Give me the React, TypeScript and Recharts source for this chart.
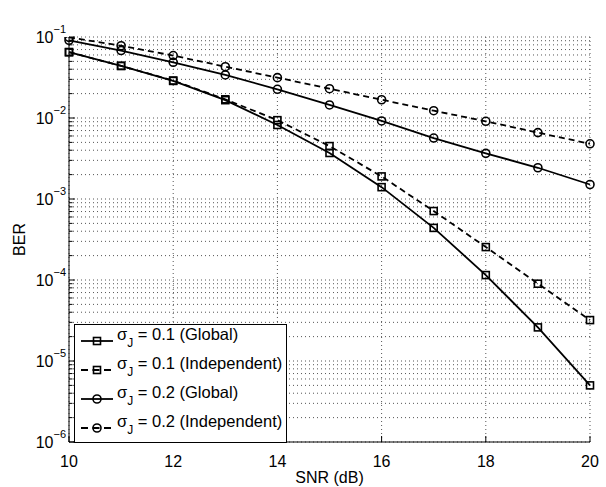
import { LineChart, Line, XAxis, YAxis, CartesianGrid, Legend, Label } from 'recharts';

const FONT = '"Liberation Sans", Arial, Helvetica, sans-serif';

// SNR in dB
const snr = [10, 11, 12, 13, 14, 15, 16, 17, 18, 19, 20];

// BER
const berSigma01Global = [0.065, 0.044, 0.0287, 0.0166, 0.0082, 0.0037, 0.0014, 4.4e-4, 1.15e-4, 2.6e-5, 5.0e-6];
const berSigma01Indep = [0.065, 0.044, 0.029, 0.017, 0.0094, 0.0045, 0.0019, 7.1e-4, 2.55e-4, 9.0e-5, 3.2e-5];
const berSigma02Global = [0.091, 0.068, 0.0487, 0.034, 0.0226, 0.0145, 0.0092, 0.00566, 0.00366, 0.00243, 0.00151];
const berSigma02Indep = [0.099, 0.078, 0.059, 0.043, 0.0315, 0.023, 0.0168, 0.0123, 0.0091, 0.0066, 0.0048];

const xTicks = [10, 12, 14, 16, 18, 20];
const yDecades = [1e-6, 1e-5, 1e-4, 1e-3, 1e-2, 1e-1];
const minorSteps = [2, 3, 4, 5, 6, 7, 8, 9];
const yTicks = yDecades.flatMap((d, i) =>
  i === yDecades.length - 1 ? [d] : [d, ...minorSteps.map((m) => d * m)]
);

const series = [
  { key: 'g01', sigma: '0.1', mode: 'Global', marker: 'square', dashed: false, values: berSigma01Global },
  { key: 'i01', sigma: '0.1', mode: 'Independent', marker: 'square', dashed: true, values: berSigma01Indep },
  { key: 'g02', sigma: '0.2', mode: 'Global', marker: 'circle', dashed: false, values: berSigma02Global },
  { key: 'i02', sigma: '0.2', mode: 'Independent', marker: 'circle', dashed: true, values: berSigma02Indep },
];

const data = snr.map((s, i) => {
  const row: Record<string, number> = { snr: s };
  series.forEach((se) => {
    row[se.key] = se.values[i];
  });
  return row;
});

const isDecade = (v: number) => Math.abs(Math.log10(v) - Math.round(Math.log10(v))) < 1e-9;

const Marker = ({ cx, cy, kind }: { cx: number; cy: number; kind: string }) =>
  kind === 'square' ? (
    <rect x={cx - 3.5} y={cy - 3.5} width={7} height={7} fill="none" stroke="#000" strokeWidth={1.6} strokeDasharray="none" />
  ) : (
    <circle cx={cx} cy={cy} r={4} fill="none" stroke="#000" strokeWidth={1.6} strokeDasharray="none" />
  );

const LeftTick = (props: any) => {
  const { x, y, payload } = props;
  const v = payload.value;
  const major = isDecade(v);
  const ax = x + 3;
  return (
    <g>
      <line x1={ax} x2={ax + (major ? 6 : 3.5)} y1={y} y2={y} stroke="#000" />
      {major && (
        <text x={x} y={y + 6} textAnchor="end" fontSize={16} fontFamily={FONT} fill="#000">
          10
          <tspan fontSize={11} dy={-10}>
            {'\u2212' + Math.round(-Math.log10(v))}
          </tspan>
        </text>
      )}
    </g>
  );
};

const RightTick = (props: any) => {
  const { x, y, payload } = props;
  const major = isDecade(payload.value);
  return <line x1={x} x2={x - (major ? 6 : 3.5)} y1={y} y2={y} stroke="#000" />;
};

const BottomTick = (props: any) => {
  const { x, y, payload } = props;
  return (
    <g>
      <line x1={x} x2={x} y1={y} y2={y - 6} stroke="#000" />
      <text x={x} y={y + 25} textAnchor="middle" fontSize={16} fontFamily={FONT} fill="#000">
        {payload.value}
      </text>
    </g>
  );
};

const TopTick = (props: any) => {
  const { x, y } = props;
  return <line x1={x} x2={x} y1={y} y2={y + 6} stroke="#000" />;
};

const renderLegend = (props: any) => {
  const payload = props.payload || [];
  return (
    <svg width={213} height={119} style={{ display: 'block' }}>
      <rect x={0.5} y={0.5} width={212} height={118} fill="#fff" stroke="#000" />
      {payload.map((entry: any, i: number) => {
        const s = series.find((se) => se.key === entry.dataKey) || series[i];
        const cy = 17 + i * 29;
        return (
          <g key={s.key}>
            <line x1={7} x2={39} y1={cy} y2={cy} stroke="#000" strokeWidth={1.8} strokeDasharray={s.dashed ? '7 4.5' : undefined} />
            <Marker cx={23} cy={cy} kind={s.marker} />
            <text x={43} y={cy - 1} fontSize={16.5} fontFamily={FONT} fill="#000">
              σ
              <tspan fontSize={12} dy={7}>J</tspan>
              <tspan dy={-7}>{` = ${s.sigma} (${s.mode})`}</tspan>
            </text>
          </g>
        );
      })}
    </svg>
  );
};

export default function App() {
  return (
    <div style={{ position: 'absolute', left: 0, top: 0, background: '#fff', fontFamily: FONT }}>
      <LineChart width={606} height={487} data={data} margin={{ top: 37, right: 16, bottom: 0, left: 9 }}>
        <CartesianGrid stroke="#555" strokeDasharray="1 3" />
        <XAxis
          dataKey="snr"
          type="number"
          domain={[10, 20]}
          ticks={xTicks}
          interval={0}
          height={45}
          tickSize={0}
          tickMargin={0}
          tick={<BottomTick />}
          axisLine={{ stroke: '#000' }}
          tickLine={false}
        >
          <Label
            content={(p: any) => {
              const vb = p.viewBox;
              return (
                <text x={vb.x + vb.width / 2} y={vb.y + 41} textAnchor="middle" fontSize={16} fontFamily={FONT} fill="#000">
                  SNR (dB)
                </text>
              );
            }}
          />
        </XAxis>
        <XAxis
          xAxisId="top"
          orientation="top"
          type="number"
          domain={[10, 20]}
          ticks={xTicks}
          interval={0}
          height={0}
          tickSize={0}
          tickMargin={0}
          tick={<TopTick />}
          axisLine={{ stroke: '#000' }}
          tickLine={false}
        >
          <Label
            content={(p: any) => {
              const vb = p.viewBox;
              return (
                <text x={vb.x + vb.width / 2} y={vb.y - 13} textAnchor="middle" fontSize={16} fontFamily={FONT} fill="#000">
                  N=1000, W=0.5
                </text>
              );
            }}
          />
        </XAxis>
        <YAxis
          type="number"
          scale="log"
          domain={[1e-6, 1e-1]}
          allowDataOverflow
          ticks={yTicks}
          interval={0}
          width={60}
          tickSize={0}
          tickMargin={3}
          tick={<LeftTick />}
          axisLine={{ stroke: '#000' }}
          tickLine={false}
        >
          <Label
            content={(p: any) => {
              const vb = p.viewBox;
              const lx = vb.x + 16;
              const ly = vb.y + vb.height / 2;
              return (
                <text x={lx} y={ly} transform={`rotate(-90 ${lx} ${ly})`} textAnchor="middle" fontSize={16} fontFamily={FONT} fill="#000">
                  BER
                </text>
              );
            }}
          />
        </YAxis>
        <YAxis
          yAxisId="right"
          orientation="right"
          type="number"
          scale="log"
          domain={[1e-6, 1e-1]}
          allowDataOverflow
          ticks={yTicks}
          interval={0}
          width={0}
          tickSize={0}
          tickMargin={0}
          tick={<RightTick />}
          axisLine={{ stroke: '#000' }}
          tickLine={false}
        />
        <Legend
          layout="vertical"
          align="center"
          verticalAlign="middle"
          content={renderLegend}
          wrapperStyle={{ position: 'absolute', left: 74, top: 324, width: 213, height: 119 }}
        />
        {series.map((s) => (
          <Line
            key={s.key}
            dataKey={s.key}
            name={`σJ = ${s.sigma} (${s.mode})`}
            type="linear"
            stroke="#000"
            strokeWidth={1.8}
            strokeDasharray={s.dashed ? '6 4' : undefined}
            dot={(p: any) => <Marker key={`${s.key}-${p.index}`} cx={p.cx} cy={p.cy} kind={s.marker} />}
            activeDot={false}
            isAnimationActive={false}
          />
        ))}
      </LineChart>
    </div>
  );
}
